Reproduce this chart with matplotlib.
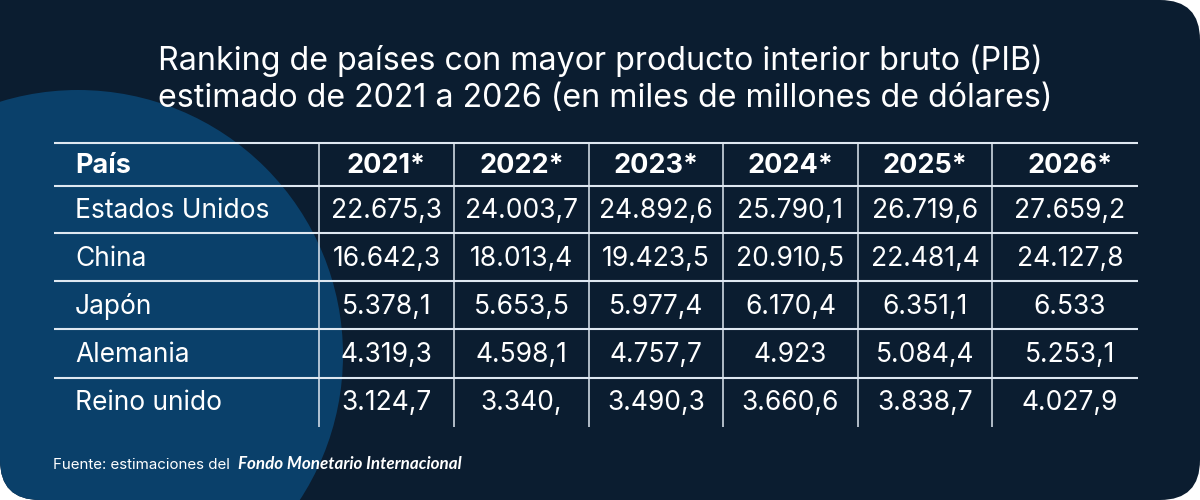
import matplotlib.pyplot as plt
from matplotlib.patches import FancyBboxPatch, Rectangle, Circle

# data as printed in the reference (strings keep the source's formatting)
years = ["2021*", "2022*", "2023*", "2024*", "2025*", "2026*"]
countries = ["Estados Unidos", "China", "Japón", "Alemania", "Reino unido"]
estados_unidos = ["22.675,3", "24.003,7", "24.892,6", "25.790,1", "26.719,6", "27.659,2"]
china = ["16.642,3", "18.013,4", "19.423,5", "20.910,5", "22.481,4", "24.127,8"]
japon = ["5.378,1", "5.653,5", "5.977,4", "6.170,4", "6.351,1", "6.533"]
alemania = ["4.319,3", "4.598,1", "4.757,7", "4.923", "5.084,4", "5.253,1"]
reino_unido = ["3.124,7", "3.340,", "3.490,3", "3.660,6", "3.838,7", "4.027,9"]
rows = [estados_unidos, china, japon, alemania, reino_unido]

title1 = "Ranking de países con mayor producto interior bruto (PIB)"
title2 = "estimado de 2021 a 2026 (en miles de millones de dólares)"
source1 = "Fuente: estimaciones del"
source2 = "Fondo Monetario Internacional"

NAVY = "#0b1d30"
BLUE = "#0a406a"
LINE = "#dfe8f1"
FONT = ["Inter", "DejaVu Sans"]

fig = plt.figure(figsize=(12, 5), dpi=100)
fig.patch.set_facecolor("white")
ax = fig.add_axes([0, 0, 1, 1])
ax.set_xlim(0, 1200)
ax.set_ylim(500, 0)
ax.axis("off")

# card background + blue blob
card = FancyBboxPatch((0, 0), 1200, 500, boxstyle="round,pad=0,rounding_size=40",
                      fc=NAVY, ec="none")
ax.add_patch(card)
ax.add_patch(Rectangle((0, 0), 120, 120, fc=NAVY, ec="none"))
blob = Circle((78, 355), 265, fc=BLUE, ec="none")
ax.add_patch(blob)
blob.set_clip_path(card)

# table grid
col_edges = [319, 454, 589, 723, 858, 992, 1148]
row_lines = [143, 186, 233, 281, 329, 378]
ax.hlines(row_lines, 54, 1138, color=LINE, lw=1.5)
ax.vlines(col_edges[:-1], 143, 427, color=LINE, lw=1.1)

fig.canvas.draw()
rend = fig.canvas.get_renderer()

def fit(t, width):
    w = t.get_window_extent(rend).width
    t.set_fontsize(t.get_fontsize() * width / w)
    return t.get_fontsize()

# title
t1 = ax.text(158, 70, title1, color="white", fontsize=20, family=FONT, va="baseline")
fs = fit(t1, 884)
ax.text(158, 107, title2, color="white", fontsize=fs, family=FONT, va="baseline")

# header
hp = ax.text(75, 173, "País", color="white", fontsize=16, fontweight="bold",
             family=FONT, va="baseline")
hfs = fit(hp, 56)
centers = [(col_edges[i] + col_edges[i + 1]) / 2 for i in range(len(years))]
for c, y in zip(centers, years):
    ax.text(c, 173, y, color="white", fontsize=hfs, fontweight="bold",
            family=FONT, ha="center", va="baseline")

# body
first = ax.text(75, 218, countries[0], color="white", fontsize=16, family=FONT,
                va="baseline")
bfs = fit(first, 195)
for i, (name, vals) in enumerate(zip(countries, rows)):
    base = 218 + 48 * i
    if i > 0:
        ax.text(75, base, name, color="white", fontsize=bfs, family=FONT, va="baseline")
    for c, v in zip(centers, vals):
        ax.text(c, base, v, color="white", fontsize=bfs, family=FONT,
                ha="center", va="baseline")

# source
s1 = ax.text(53, 469, source1, color="white", fontsize=10, family=FONT, va="baseline")
fit(s1, 179)
s2 = ax.text(238, 469, source2, color="white", fontsize=10, fontweight="bold",
             style="italic", family=["Lato", "DejaVu Sans"], va="baseline")
fit(s2, 224)

fig.savefig("out.png", dpi=100, facecolor=fig.get_facecolor())
